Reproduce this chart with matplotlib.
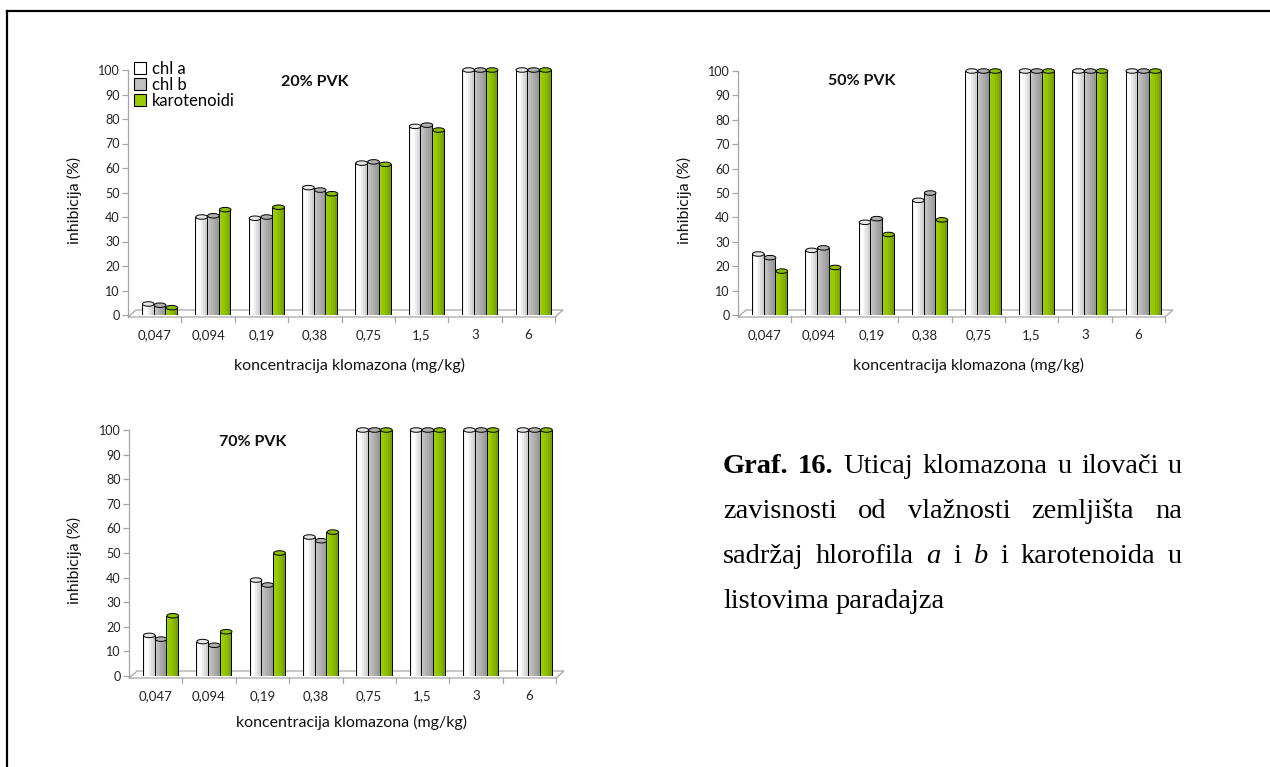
import matplotlib
matplotlib.use('Agg')
import matplotlib.pyplot as plt
from matplotlib.patches import Ellipse, Polygon, Patch
from matplotlib.lines import Line2D

# data
doses = ['0,047', '0,094', '0,19', '0,38', '0,75', '1,5', '3', '6']
series_names = ['chl a', 'chl b', 'karotenoidi']

chl_a_20 = [4.5, 40, 39.5, 52, 62, 77, 100, 100]
chl_b_20 = [4, 40.5, 40, 51, 62.5, 77.5, 100, 100]
karot_20 = [3, 43, 44, 49.5, 61.5, 75.5, 100, 100]

chl_a_50 = [25, 26.5, 38, 47, 100, 100, 100, 100]
chl_b_50 = [23.5, 27.5, 39.5, 50, 100, 100, 100, 100]
karot_50 = [18, 19.5, 33, 39, 100, 100, 100, 100]

chl_a_70 = [16.5, 14, 39, 56.5, 100, 100, 100, 100]
chl_b_70 = [15, 12.5, 37, 55, 100, 100, 100, 100]
karot_70 = [24.5, 18, 50, 58.5, 100, 100, 100, 100]

W, H = 1270, 767
fig = plt.figure(figsize=(W / 100, H / 100), dpi=100)
plt.rcParams['font.family'] = ['Lato', 'DejaVu Sans']


def fx(px):
    return px / W


def fy(py):
    return 1 - py / H


# strip shades for a fake cylinder look (left -> right)
shades = [
    ['#f0f0f0', '#ffffff', '#fafafa', '#ebebeb', '#dedede', '#cfcfcf'],
    ['#c6c6c6', '#bcbcbc', '#b4b4b4', '#ababab', '#a2a2a2', '#979797'],
    ['#a0d000', '#99cc00', '#93c400', '#8bba00', '#82af00', '#76a000'],
]
cap_colors = ['#e6e6e6', '#b0b0b0', '#8cbc00']
legend_colors = ['#ffffff', '#c0c0c0', '#99cc00']


def draw_panel(left, y0, y100, vals, title, title_xy, ylab_xy, xlab_xy):
    ax = fig.add_axes([fx(left), fy(y0), fx(427), (y0 - y100) / H])
    ax.set_xlim(0, 8)
    ax.set_ylim(0, 100)
    ax.patch.set_alpha(0)
    upx = 100 / (y0 - y100)  # data units per pixel (y)
    xpx = 8 / 427

    # floor
    front = -2 * upx
    back = front + 7 * upx
    floor = Polygon([(0, front), (8 * xpx, back), (8 + 8 * xpx, back), (8, front)],
                    closed=True, facecolor='white', edgecolor='#a6a6a6', lw=0.9,
                    clip_on=False, zorder=1)
    ax.add_patch(floor)
    for i in range(1, 9):
        ax.plot([i, i], [front, front - 5 * upx], color='#a6a6a6', lw=0.9,
                clip_on=False, zorder=1)
    ax.plot([0, 0], [front, 100], color='#a6a6a6', lw=0.9, clip_on=False, zorder=1)

    bw = 0.22
    centers = [i + 0.5 for i in range(8)]
    for s, v in enumerate(vals):
        xs = [c + (s - 1) * bw + 0.09 for c in centers]
        n = len(shades[s])
        for k in range(n):
            ax.bar([x - bw / 2 + k * bw / n for x in xs], v, width=bw / n + 0.002,
                   align='edge', color=shades[s][k], lw=0, zorder=2 + s)
        ax.bar([x - bw / 2 for x in xs], v, width=bw, align='edge', fill=False,
               edgecolor='black', lw=0.7, zorder=2 + s)
        for x, h in zip(xs, v):
            ax.add_patch(Ellipse((x + 0.01, h), bw, 4.5 * upx, facecolor=cap_colors[s],
                                 edgecolor='black', lw=0.7, zorder=2.5 + s,
                                 clip_on=False))

    for sp in ax.spines.values():
        sp.set_visible(False)
    ax.set_yticks(range(0, 101, 10))
    ax.tick_params(axis='y', direction='out', length=4, width=0.9, color='#a6a6a6',
                   labelsize=9, pad=2, labelcolor='#222222')
    ax.set_xticks(centers)
    ax.set_xticklabels(doses)
    ax.tick_params(axis='x', length=0, labelsize=9.5, pad=10, labelcolor='#222222')

    fig.text(fx(title_xy[0]), fy(title_xy[1]), title, ha='center', va='center',
             fontsize=11.5, fontweight='bold', color='#111111')
    fig.text(fx(ylab_xy[0]), fy(ylab_xy[1]), 'inhibicija (%)', ha='center',
             va='center', rotation=90, fontsize=11.5, color='#111111')
    fig.text(fx(xlab_xy[0]), fy(xlab_xy[1]), 'koncentracija klomazona (mg/kg)',
             ha='center', va='center', fontsize=11.5, color='#111111')
    return ax


draw_panel(128, 315, 70, [chl_a_20, chl_b_20, karot_20], '20% PVK', (315, 82),
           (74, 200), (350, 365))
draw_panel(738, 315, 71, [chl_a_50, chl_b_50, karot_50], '50% PVK', (862, 81),
           (684, 200), (968, 365))
draw_panel(129, 676, 430, [chl_a_70, chl_b_70, karot_70], '70% PVK', (253, 442),
           (74, 560), (352, 722))

handles = [Patch(facecolor=c, edgecolor='black', lw=0.8) for c in legend_colors]
fig.legend(handles, series_names, loc='upper left', bbox_to_anchor=(fx(134), fy(61)),
           frameon=False, fontsize=12, handlelength=0.7, handleheight=0.7,
           handletextpad=0.35, labelspacing=0.0, borderaxespad=0, borderpad=0)

# page frame (right and bottom edges fall outside the picture)
fig.add_artist(Line2D([fx(7), fx(7)], [fy(11), 0], color='black', lw=1.6))
fig.add_artist(Line2D([fx(7), 1], [fy(11), fy(11)], color='black', lw=1.6))

# caption, justified by hand
cap_fs = 20.5
serif = ['Liberation Serif', 'DejaVu Serif']
x0, x1 = 723, 1182
lines = [
    ([('Graf.', 'bold', 'normal'), ('16.', 'bold', 'normal'), ('Uticaj', 'normal', 'normal'),
      ('klomazona', 'normal', 'normal'), ('u', 'normal', 'normal'),
      ('ilovači', 'normal', 'normal'), ('u', 'normal', 'normal')], 473, True),
    ([('zavisnosti', 'normal', 'normal'), ('od', 'normal', 'normal'),
      ('vlažnosti', 'normal', 'normal'), ('zemljišta', 'normal', 'normal'),
      ('na', 'normal', 'normal')], 518, True),
    ([('sadržaj', 'normal', 'normal'), ('hlorofila', 'normal', 'normal'),
      ('a', 'normal', 'italic'), ('i', 'normal', 'normal'), ('b', 'normal', 'italic'),
      ('i', 'normal', 'normal'), ('karotenoida', 'normal', 'normal'),
      ('u', 'normal', 'normal')], 563, True),
    ([('listovima', 'normal', 'normal'), ('paradajza', 'normal', 'normal')], 608, False),
]
renderer = fig.canvas.get_renderer()
space = fig.text(0, 0, 'a a', fontsize=cap_fs, family=serif)
nospace = fig.text(0, 0, 'aa', fontsize=cap_fs, family=serif)
sp_w = space.get_window_extent(renderer).width - nospace.get_window_extent(renderer).width
space.remove()
nospace.remove()
for words, yb, justify in lines:
    arts = [fig.text(0, fy(yb), w, fontsize=cap_fs, family=serif, fontweight=wt,
                     fontstyle=st, va='baseline', ha='left') for w, wt, st in words]
    widths = [a.get_window_extent(renderer).width for a in arts]
    gap = (x1 - x0 - sum(widths)) / (len(arts) - 1) if justify else sp_w
    x = x0
    for a, w in zip(arts, widths):
        a.set_x(fx(x))
        x += w + gap

fig.savefig('out.png', dpi=100)
